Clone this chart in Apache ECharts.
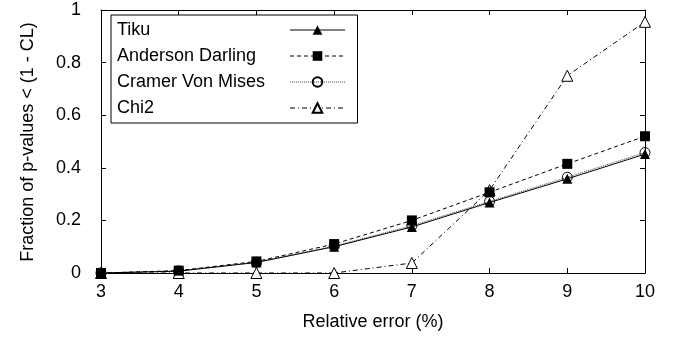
<!DOCTYPE html>
<html>
<head>
<meta charset="utf-8">
<script src="https://cdn.jsdelivr.net/npm/echarts@6/dist/echarts.min.js"></script>
<style>html,body{margin:0;padding:0;background:#fff}#c{width:679px;height:337px}</style>
</head>
<body>
<div id="c"></div>
<script>
var relErr = [3, 4, 5, 6, 7, 8, 9, 10];
var tiku = [0, 0.007, 0.04, 0.1, 0.175, 0.268, 0.358, 0.452];
var anderson = [0, 0.009, 0.044, 0.11, 0.2, 0.307, 0.415, 0.52];
var cramer = [0, 0.008, 0.041, 0.102, 0.18, 0.272, 0.364, 0.458];
var chi2 = [0, 0, 0, 0, 0.038, 0.315, 0.75, 0.955];
var seriesNames = ['Tiku', 'Anderson Darling', 'Cramer Von Mises', 'Chi2'];
var xTicks = [3, 4, 5, 6, 7, 8, 9, 10];
var yTicks = [0, 0.2, 0.4, 0.6, 0.8, 1];

var FONT = 'Liberation Sans';
var FS = 18;
function pairs(ys) { return relErr.map(function (x, i) { return [x, ys[i]]; }); }

var chart = echarts.init(document.getElementById('c'), null, {renderer: 'canvas'});
var black = '#000';
var axisCommon = {
  type: 'value',
  axisLine: {show: true, onZero: false, lineStyle: {color: black, width: 1}},
  axisTick: {show: true, inside: true, length: 5, lineStyle: {color: black, width: 1}},
  splitLine: {show: false}
};
function mk(base, extra) { return Object.assign({}, JSON.parse(JSON.stringify(base)), extra); }

var option = {
  animation: false,
  backgroundColor: '#fff',
  grid: {left: 101, right: 34, top: 10, bottom: 64, containLabel: false},
  xAxis: [
    mk(axisCommon, {
      position: 'bottom', min: xTicks[0], max: xTicks[xTicks.length - 1], interval: 1,
      axisLabel: {color: black, fontFamily: FONT, fontSize: FS, margin: 10},
      name: 'Relative error (%)', nameLocation: 'middle', nameGap: 40,
      nameTextStyle: {color: black, fontFamily: FONT, fontSize: FS}
    }),
    mk(axisCommon, {
      position: 'top', min: xTicks[0], max: xTicks[xTicks.length - 1], interval: 1,
      axisLabel: {show: false}
    })
  ],
  yAxis: [
    mk(axisCommon, {
      position: 'left', min: yTicks[0], max: yTicks[yTicks.length - 1], interval: 0.2,
      axisLabel: {color: black, fontFamily: FONT, fontSize: FS, margin: 20}
    }),
    mk(axisCommon, {
      position: 'right', min: yTicks[0], max: yTicks[yTicks.length - 1], interval: 0.2,
      axisLabel: {show: false}
    })
  ],
  graphic: [{
    type: 'text',
    x: 28, y: 142,
    rotation: Math.PI / 2,
    style: {
      text: 'Fraction of p-values < (1 - CL)', fill: black,
      font: FS + 'px "' + FONT + '"',
      textAlign: 'center', textVerticalAlign: 'middle'
    }
  }],
  legend: {
    data: seriesNames,
    orient: 'vertical',
    left: 111, top: 15,
    align: 'right',
    padding: [5, 12, 5, 6],
    itemGap: 6,
    itemWidth: 55,
    itemHeight: 12,
    borderColor: black,
    borderWidth: 1,
    borderRadius: 0,
    backgroundColor: '#fff',
    lineStyle: {width: 1},
    formatter: function (n) { return '{a|' + n + '}'; },
    textStyle: {
      color: black, fontFamily: FONT, fontSize: FS, lineHeight: 20,
      rich: {a: {width: 168, align: 'left', lineHeight: 20, fontFamily: FONT, fontSize: FS, color: black}}
    }
  },
  series: [
    {
      name: seriesNames[2], type: 'line', data: pairs(cramer),
      symbol: 'circle', symbolSize: 10,
      itemStyle: {color: 'rgba(255,255,255,0)', borderColor: black, borderWidth: 1},
      lineStyle: {color: '#444', width: 1, type: [1, 1]}
    },
    {
      name: seriesNames[0], type: 'line', data: pairs(tiku),
      symbol: 'triangle', symbolSize: 10,
      itemStyle: {color: black},
      lineStyle: {color: black, width: 1, type: 'solid'}
    },
    {
      name: seriesNames[3], type: 'line', data: pairs(chi2),
      symbol: 'triangle', symbolSize: 11,
      itemStyle: {color: '#fff', borderColor: black, borderWidth: 1},
      lineStyle: {color: black, width: 1, type: [5, 3, 1, 3]}
    },
    {
      name: seriesNames[1], type: 'line', data: pairs(anderson),
      symbol: 'rect', symbolSize: 10,
      itemStyle: {color: black},
      lineStyle: {color: black, width: 1, type: [4, 3]}
    }
  ]
};
chart.setOption(option);
</script>
</body>
</html>
